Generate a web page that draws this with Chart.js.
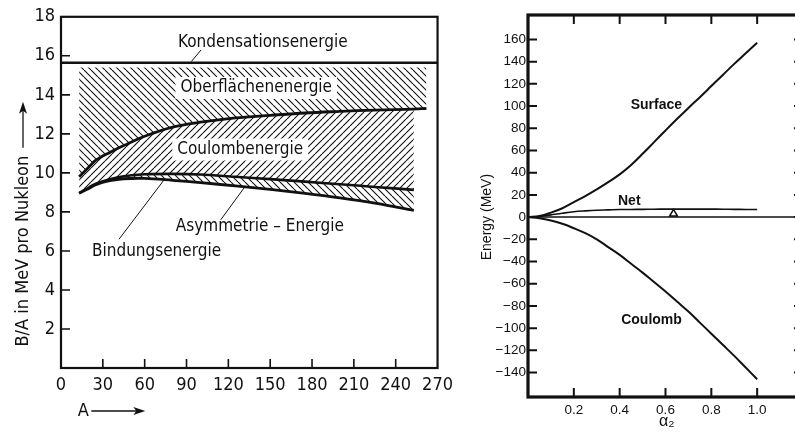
<!DOCTYPE html>
<html>
<head>
<meta charset="utf-8">
<script src="https://cdn.jsdelivr.net/npm/chart.js@4.4.1/dist/chart.umd.min.js"></script>
<style>
  html, body { margin: 0; padding: 0; background: #fff; overflow: hidden; }
  body { width: 795px; height: 432px; position: relative; }
  #left { position: absolute; left: 0; top: 0; width: 460px; height: 432px; }
  #right { position: absolute; left: 460px; top: 0; width: 350px; height: 432px; }
</style>
</head>
<body>
<div id="left"><canvas id="bindingChart"></canvas></div>
<div id="right"><canvas id="fissionChart"></canvas></div>
<script>
// left panel: B/A contributions against mass number A
const massNumbers = [13, 20, 25, 35, 45, 60, 80, 100, 125, 150, 175, 200, 225, 253, 262];
const surfaceHatchTop = [15.4, 15.4, 15.4, 15.4, 15.4, 15.4, 15.4, 15.4, 15.4, 15.4, 15.4, 15.4, 15.4, 15.4, 15.4];
const afterSurface = [9.8, 10.3, 10.65, 11.05, 11.4, 11.88, 12.35, 12.6, 12.82, 12.95, 13.07, 13.15, 13.22, 13.27, 13.3];
const afterCoulomb = [8.96, 9.25, 9.45, 9.68, 9.83, 9.93, 9.95, 9.92, 9.8, 9.68, 9.55, 9.42, 9.28, 9.13, null];
const bindingEnergy = [8.96, 9.2, 9.4, 9.6, 9.7, 9.72, 9.62, 9.5, 9.33, 9.15, 8.95, 8.72, 8.45, 8.08, null];
const condensationA = [0, 270];
const condensationEnergy = [15.65, 15.65];
const massTicks = [0, 30, 60, 90, 120, 150, 180, 210, 240, 270];
const baTicks = [2, 4, 6, 8, 10, 12, 14, 16, 18];

// right panel: deformation energy against alpha2
const alpha2 = [0, 0.05, 0.1, 0.15, 0.2, 0.25, 0.3, 0.35, 0.4, 0.45, 0.5, 0.55, 0.6, 0.65, 0.7, 0.75, 0.8, 0.85, 0.9, 0.95, 1.0];
const surfaceMeV = [0, 1, 4, 8, 13.5, 19, 25, 31.5, 38.5, 47, 57, 67.5, 78, 88.3, 98.3, 108, 118, 128, 138, 147.5, 157];
const coulombMeV = [0, -1, -3, -6, -10, -14.5, -20, -27, -34, -42, -50, -58.5, -67, -76, -85, -95, -105, -115, -125, -135.5, -146];
const netMeV = [0, 0.5, 2, 3.5, 4.8, 5.6, 6.2, 6.5, 6.8, 6.9, 7, 7.1, 7.2, 7.2, 7.2, 7.2, 7.2, 7.1, 7, 6.9, 6.8];
const zeroLineX = [0, 1.2];
const zeroLineY = [0, 0];
const saddleMark = [0.635, 3];
const alphaTicks = [0.2, 0.4, 0.6, 0.8, 1.0];
const energyTicks = [-140, -120, -100, -80, -60, -40, -20, 0, 20, 40, 60, 80, 100, 120, 140, 160];

const ink = '#111';
const dinFont = "'Liberation Sans Narrow', 'DejaVu Sans Condensed', 'Roboto Condensed', 'DejaVu Sans', sans-serif";
const oldFont = "'Liberation Sans', Arial, sans-serif";

const pts = (xs, ys) => xs.map((x, i) => ({ x, y: ys[i] }));

function hatch(dir) {
  const s = 7;
  const c = document.createElement('canvas');
  c.width = c.height = s;
  const g = c.getContext('2d');
  g.strokeStyle = ink;
  g.lineWidth = 1.1;
  g.beginPath();
  for (let k = -1; k <= 1; k++) {
    if (dir === 'down') { g.moveTo(k * s, 0); g.lineTo(k * s + s, s); }
    else { g.moveTo(k * s, s); g.lineTo(k * s + s, 0); }
  }
  g.stroke();
  return g.createPattern(c, 'repeat');
}

// frame plus inward tick marks
const inwardFrame = {
  id: 'inwardFrame',
  afterDraw(chart, args, o) {
    const { ctx, chartArea: a, scales: { x, y } } = chart;
    ctx.save();
    ctx.strokeStyle = ink;
    ctx.lineWidth = o.frame;
    ctx.strokeRect(a.left, a.top, a.right - a.left, a.bottom - a.top);
    ctx.lineWidth = o.tick;
    ctx.beginPath();
    x.ticks.forEach(t => {
      if (t.value <= x.min || t.value >= x.max) return;
      const px = x.getPixelForValue(t.value);
      ctx.moveTo(px, a.bottom); ctx.lineTo(px, a.bottom - o.len);
      if (o.allSides) { ctx.moveTo(px, a.top); ctx.lineTo(px, a.top + o.len); }
    });
    y.ticks.forEach(t => {
      if (t.value <= y.min || t.value >= y.max) return;
      const py = y.getPixelForValue(t.value);
      ctx.moveTo(a.left, py); ctx.lineTo(a.left + o.len, py);
      if (o.allSides) { ctx.moveTo(a.right, py); ctx.lineTo(a.right - o.len, py); }
    });
    ctx.stroke();
    ctx.restore();
  }
};

function arrow(ctx, x1, y1, x2, y2) {
  const ang = Math.atan2(y2 - y1, x2 - x1);
  ctx.beginPath();
  ctx.moveTo(x1, y1); ctx.lineTo(x2 - 8 * Math.cos(ang), y2 - 8 * Math.sin(ang));
  ctx.stroke();
  ctx.save();
  ctx.translate(x2, y2); ctx.rotate(ang);
  ctx.beginPath();
  ctx.moveTo(0, 0); ctx.lineTo(-12, -4); ctx.lineTo(-9, 0); ctx.lineTo(-12, 4); ctx.closePath();
  ctx.fill();
  ctx.restore();
}

// text labels and leader lines placed in data coordinates
const annotate = {
  id: 'annotate',
  afterDatasetsDraw(chart, args, o) {
    const { ctx, scales: { x, y } } = chart;
    ctx.save();
    ctx.strokeStyle = ink;
    ctx.lineWidth = 1;
    (o.leaders || []).forEach(l => {
      ctx.beginPath();
      ctx.moveTo(x.getPixelForValue(l[0]), y.getPixelForValue(l[1]));
      ctx.lineTo(x.getPixelForValue(l[2]), y.getPixelForValue(l[3]));
      ctx.stroke();
    });
    ctx.font = o.font;
    ctx.textAlign = 'center';
    ctx.textBaseline = 'middle';
    (o.labels || []).forEach(l => {
      const px = x.getPixelForValue(l.at[0]), py = y.getPixelForValue(l.at[1]);
      if (l.knockout) {
        const w = ctx.measureText(l.text).width;
        ctx.fillStyle = '#fff';
        ctx.fillRect(px - w / 2 - 5, py - 11, w + 10, 22);
      }
      ctx.fillStyle = ink;
      ctx.fillText(l.text, px, py);
    });
    ctx.restore();
  },
  afterDraw(chart, args, o) {
    if (o.titles) o.titles(chart);
  }
};

new Chart(document.getElementById('bindingChart'), {
  type: 'line',
  data: {
    datasets: [
      { data: pts(condensationA, condensationEnergy), borderColor: ink, borderWidth: 2.5, pointRadius: 0, fill: false },
      { data: pts(massNumbers, surfaceHatchTop), borderWidth: 0, borderColor: 'rgba(0,0,0,0)', pointRadius: 0, fill: 2, backgroundColor: hatch('down') },
      { data: pts(massNumbers, afterSurface), borderColor: ink, borderWidth: 2.8, pointRadius: 0, tension: 0.35, fill: 3, backgroundColor: hatch('up') },
      { data: pts(massNumbers, afterCoulomb), borderColor: ink, borderWidth: 2.6, pointRadius: 0, tension: 0.35, fill: 4, backgroundColor: hatch('down') },
      { data: pts(massNumbers, bindingEnergy), borderColor: ink, borderWidth: 2.8, pointRadius: 0, tension: 0.35, fill: false }
    ]
  },
  options: {
    responsive: true,
    maintainAspectRatio: false,
    animation: false,
    devicePixelRatio: 1,
    layout: { padding: { top: 15, right: 16, left: 0, bottom: 0 } },
    scales: {
      x: {
        type: 'linear', min: 0, max: 270,
        grid: { display: false, drawTicks: false }, border: { display: false },
        ticks: { color: ink, font: { family: dinFont, size: 18 }, padding: 7, maxRotation: 0, autoSkip: false },
        afterBuildTicks: s => { s.ticks = massTicks.map(v => ({ value: v })); },
        afterFit: s => { s.height = 64; }
      },
      y: {
        type: 'linear', min: 0, max: 18,
        grid: { display: false, drawTicks: false }, border: { display: false },
        ticks: { color: ink, font: { family: dinFont, size: 18 }, padding: 6 },
        afterBuildTicks: s => { s.ticks = baTicks.map(v => ({ value: v })); },
        afterFit: s => { s.width = 61; }
      }
    },
    plugins: {
      legend: { display: false },
      tooltip: { enabled: false },
      inwardFrame: { frame: 2.2, tick: 1.6, len: 9, allSides: false },
      annotate: {
        font: '17px ' + dinFont,
        leaders: [[100.4, 16.3, 93.4, 15.7], [41.6, 6.6, 74, 9.65], [114.6, 7.6, 132, 9.3]],
        labels: [
          { text: 'Kondensationsenergie', at: [144.7, 16.7] },
          { text: 'Oberflächenenergie', at: [140, 14.35], knockout: true },
          { text: 'Coulombenergie', at: [128.5, 11.2], knockout: true },
          { text: 'Asymmetrie – Energie', at: [142.6, 7.25] },
          { text: 'Bindungsenergie', at: [68.5, 5.95] }
        ],
        titles: chart => {
          const { ctx, chartArea: a, scales: { x, y } } = chart;
          ctx.save();
          ctx.fillStyle = ink; ctx.strokeStyle = ink; ctx.lineWidth = 1.3;
          ctx.font = '18px ' + dinFont;
          ctx.textBaseline = 'middle';
          // y title, rotated, reading upwards
          const yt = 'B/A in MeV pro Nukleon';
          const base = y.getPixelForValue(1.1);
          ctx.save();
          ctx.translate(23, base); ctx.rotate(-Math.PI / 2);
          ctx.textAlign = 'left';
          ctx.fillText(yt, 0, 0);
          const w = ctx.measureText(yt).width;
          arrow(ctx, w + 8, 0, w + 54, 0);
          ctx.restore();
          // x title
          ctx.textAlign = 'center';
          const ax = x.getPixelForValue(16);
          ctx.fillText('A', ax, a.bottom + 43);
          arrow(ctx, ax + 8, a.bottom + 43, ax + 62, a.bottom + 43);
          ctx.restore();
        }
      }
    }
  },
  plugins: [inwardFrame, annotate]
});

new Chart(document.getElementById('fissionChart'), {
  type: 'line',
  data: {
    datasets: [
      { data: pts(zeroLineX, zeroLineY), borderColor: ink, borderWidth: 1.5, pointRadius: 0 },
      { data: pts(alpha2, surfaceMeV), borderColor: ink, borderWidth: 2, pointRadius: 0, tension: 0.4 },
      { data: pts(alpha2, netMeV), borderColor: ink, borderWidth: 1.6, pointRadius: 0, tension: 0.4 },
      { data: pts(alpha2, coulombMeV), borderColor: ink, borderWidth: 2, pointRadius: 0, tension: 0.4 },
      { data: [{ x: saddleMark[0], y: saddleMark[1] }], showLine: false, pointStyle: 'triangle', pointRadius: 4.5, borderColor: ink, borderWidth: 1.5, backgroundColor: '#fff' }
    ]
  },
  options: {
    responsive: true,
    maintainAspectRatio: false,
    animation: false,
    devicePixelRatio: 1,
    layout: { padding: { top: 15, right: 7, left: 0, bottom: 0 } },
    scales: {
      x: {
        type: 'linear', min: 0, max: 1.2,
        grid: { display: false, drawTicks: false }, border: { display: false },
        ticks: { color: ink, font: { family: oldFont, size: 13.5 }, padding: 5, maxRotation: 0, autoSkip: false, callback: v => v.toFixed(1) },
        afterBuildTicks: s => { s.ticks = alphaTicks.map(v => ({ value: v })); },
        afterFit: s => { s.height = 35; }
      },
      y: {
        type: 'linear', min: -162, max: 182,
        grid: { display: false, drawTicks: false }, border: { display: false },
        ticks: { color: ink, font: { family: oldFont, size: 13.5 }, padding: 2, callback: v => (v < 0 ? '\u2212' + Math.abs(v) : '' + v) },
        afterBuildTicks: s => { s.ticks = energyTicks.map(v => ({ value: v })); },
        afterFit: s => { s.width = 68; }
      }
    },
    plugins: {
      legend: { display: false },
      tooltip: { enabled: false },
      inwardFrame: { frame: 3.2, tick: 2, len: 9, allSides: true },
      annotate: {
        font: 'bold 14px ' + oldFont,
        labels: [
          { text: 'Surface', at: [0.56, 100.6] },
          { text: 'Net', at: [0.442, 14.4] },
          { text: 'Coulomb', at: [0.539, -92.5] }
        ],
        titles: chart => {
          const { ctx, chartArea: a, scales: { x, y } } = chart;
          ctx.save();
          ctx.fillStyle = ink;
          ctx.textAlign = 'center';
          ctx.textBaseline = 'middle';
          ctx.font = '14px ' + oldFont;
          ctx.save();
          ctx.translate(a.left - 41, y.getPixelForValue(0));
          ctx.rotate(-Math.PI / 2);
          ctx.fillText('Energy (MeV)', 0, 0);
          ctx.restore();
          ctx.font = '16px ' + oldFont;
          ctx.fillText('α\u2082', x.getPixelForValue(0.605), a.bottom + 25);
          ctx.restore();
        }
      }
    }
  },
  plugins: [inwardFrame, annotate]
});
</script>
</body>
</html>
